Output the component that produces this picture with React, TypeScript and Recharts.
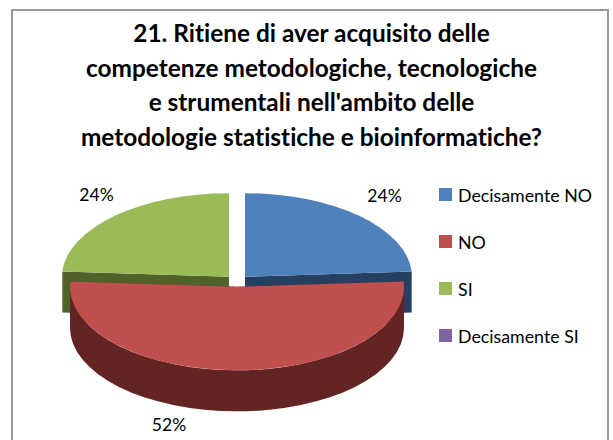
import { PieChart, Pie, Legend } from "recharts";

const categories = ["Decisamente NO", "NO", "SI", "Decisamente SI"];
const shares = [24, 52, 24, 0];
const topColors = ["#4F81BD", "#C0504D", "#9BBB59", "#8064A2"];
const sideColors = ["#254061", "#632523", "#4F6228", "#403152"];
const titleLines = [
    "21. Ritiene di aver acquisito delle",
    "competenze metodologiche, tecnologiche",
    "e strumentali nell'ambito delle",
    "metodologie statistiche e bioinformatiche?",
];

const pieData = categories.map((name, i) => ({
    name,
    value: shares[i],
    fill: topColors[i],
    side: sideColors[i],
}));

// the fake 3d look: squashed circle, extruded wall, slices pushed out a bit
const SQUASH = 0.5;
const DEPTH = 41;
const EXPLODE = 11.7;
const RAD = Math.PI / 180;
// excel puts its labels wherever they fit, so nudge from the radial spot
const labelNudge = [
    { dx: 1, dy: -1 },
    { dx: -68, dy: 27 },
    { dx: 6, dy: -2 },
];

const Slice3D = (props: any) => {
    const { cx, cy, outerRadius, startAngle, endAngle, midAngle, fill, value, payload, layer } = props;
    const isFront = payload.name === "NO";
    if (value === 0 || (layer === "front") !== isFront) return null;

    const rx = outerRadius;
    const ry = outerRadius * SQUASH;
    const ox = cx + EXPLODE * Math.cos(midAngle * RAD);
    const oy = cy - EXPLODE * SQUASH * Math.sin(midAngle * RAD);
    const pt = (a: number, drop = 0) =>
        `${ox + rx * Math.cos(a * RAD)} ${oy - ry * Math.sin(a * RAD) + drop}`;
    const large = Math.abs(startAngle - endAngle) > 180 ? 1 : 0;

    // part of the rim that faces the viewer, angles 0 to -180
    const rimFrom = Math.min(startAngle, 0);
    const rimTo = Math.max(endAngle, -180);

    return (
        <g>
            {[startAngle, endAngle].map((a: number) => (
                <path
                    key={a}
                    fill={payload.side}
                    d={`M${ox} ${oy}L${pt(a)}L${pt(a, DEPTH)}L${ox} ${oy + DEPTH}Z`}
                />
            ))}
            {rimFrom > rimTo && (
                <path
                    fill={payload.side}
                    d={`M${pt(rimFrom)}A${rx} ${ry} 0 0 1 ${pt(rimTo)}L${pt(rimTo, DEPTH)}A${rx} ${ry} 0 0 0 ${pt(rimFrom, DEPTH)}Z`}
                />
            )}
            <path
                fill={fill}
                d={`M${ox} ${oy}L${pt(startAngle)}A${rx} ${ry} 0 ${large} 1 ${pt(endAngle)}Z`}
            />
        </g>
    );
};

const renderLabel = (props: any) => {
    const { cx, cy, midAngle, value, index } = props;
    if (value === 0) return null;
    const nudge = labelNudge[index];
    const x = cx + 214 * Math.cos(midAngle * RAD) + nudge.dx;
    const y = cy - 116 * Math.sin(midAngle * RAD) + nudge.dy;
    return (
        <text x={x} y={y} textAnchor="middle" dominantBaseline="central" fontSize={17.5} fontFamily="Lato" fill="#000">
            {value}%
        </text>
    );
};

// both pie layers report to the legend, keep one entry per category
const renderLegend = ({ payload }: any) => {
    const items = (payload ?? []).filter(
        (item: any, i: number, all: any[]) => all.findIndex((o) => o.value === item.value) === i,
    );
    return (
        <div>
            {items.map((item: any) => (
                <div key={item.value} style={{ display: "flex", alignItems: "center", height: 47 }}>
                    <span style={{ width: 13, height: 13, background: item.color, marginRight: 6 }} />
                    <span style={{ fontFamily: "Lato", fontSize: 17.8, color: "#000", whiteSpace: "nowrap" }}>{item.value}</span>
                </div>
            ))}
        </div>
    );
};

export default function App() {
    return (
        <div style={{ position: "absolute", left: 0, top: 0, width: 613, height: 440, background: "#fff", overflow: "hidden" }}>
            <div
                style={{
                    position: "absolute",
                    left: 11,
                    top: 9,
                    width: 598,
                    height: 440,
                    border: "2px solid #999",
                    boxSizing: "border-box",
                }}
            />
            <div
                style={{
                    position: "absolute",
                    left: 0,
                    top: 16,
                    width: 623,
                    textAlign: "center",
                    fontFamily: "Lato",
                    fontWeight: 700,
                    fontSize: 24.4,
                    fontVariantLigatures: "none",
                    lineHeight: "34.6px",
                    color: "#000",
                }}
            >
                {titleLines.map((line) => (
                    <div key={line}>{line}</div>
                ))}
            </div>
            <PieChart
                width={613}
                height={440}
                margin={{ top: 0, right: 0, bottom: 0, left: 0 }}
                style={{ position: "absolute", left: 0, top: 0 }}
            >
                <Pie
                    data={pieData}
                    dataKey="value"
                    nameKey="name"
                    cx={237}
                    cy={281}
                    outerRadius={167}
                    startAngle={90}
                    endAngle={-270}
                    stroke="none"
                    isAnimationActive={false}
                    labelLine={false}
                    label={renderLabel}
                    shape={(p: any) => <Slice3D {...p} layer="back" />}
                />
                <Pie
                    data={pieData}
                    dataKey="value"
                    nameKey="name"
                    cx={237}
                    cy={281}
                    outerRadius={167}
                    startAngle={90}
                    endAngle={-270}
                    stroke="none"
                    legendType="none"
                    isAnimationActive={false}
                    shape={(p: any) => <Slice3D {...p} layer="front" />}
                />
                <Legend
                    layout="vertical"
                    align="right"
                    verticalAlign="top"
                    itemSorter={null}
                    content={renderLegend}
                    wrapperStyle={{ left: 439, top: 171, width: 170 }}
                />
            </PieChart>
        </div>
    );
}
